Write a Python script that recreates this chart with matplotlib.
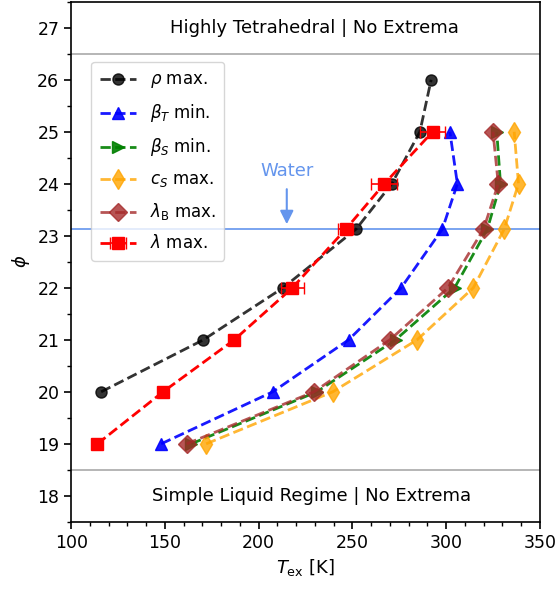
import matplotlib
matplotlib.use("Agg")
import matplotlib.pyplot as plt
from matplotlib.ticker import MultipleLocator

phi_all = [19, 20, 21, 22, 23.13, 24, 25, 26]
phi_rho = [20, 21, 22, 23.13, 24, 25, 26]
rho_max = [116, 170.5, 213, 252, 271, 286, 292]
phi_s = [19, 20, 21, 22, 23.13, 24, 25]
betaT_min = [148, 207.5, 248, 276, 298, 306, 302]
betaS_min = [164, 231, 273, 304.5, 322, 329, 327]
cS_max = [172, 239.5, 284.5, 314.5, 331, 338.6, 336.3]
lamB_max = [161.6, 229.5, 270, 301, 320, 327.8, 325]
lam_max = [114, 149, 187, 218, 246.5, 267, 292.8]
lam_err = [2, 2.5, 2.5, 6, 4, 7, 6.5]

water_phi = 23.13
upper_bound = 26.5
lower_bound = 18.5

fig = plt.figure(figsize=(5.56, 5.91), dpi=100)
ax = fig.add_axes([0.128, 0.117, 0.843, 0.880])

ax.axhline(upper_bound, color='darkgray', lw=1.2)
ax.axhline(lower_bound, color='darkgray', lw=1.2)
ax.axhline(water_phi, color='cornflowerblue', lw=1.2)

ax.plot(rho_max, phi_rho, '--o', color='k', alpha=0.8, ms=8, lw=2, label=r'$\rho$ max.')
ax.plot(betaT_min, phi_s, '--^', color='b', alpha=0.9, ms=8, lw=2, label=r'$\beta_T$ min.')
ax.plot(betaS_min, phi_s, '-->', color='g', alpha=0.9, ms=8, lw=2, label=r'$\beta_S$ min.')
ax.plot(cS_max, phi_s, '--d', color='orange', alpha=0.8, ms=10, lw=2, label=r'$c_S$ max.')
ax.plot(lamB_max, phi_s, '--D', color='brown', alpha=0.8, ms=9, lw=2, label=r'$\lambda_\mathrm{B}$ max.')
ax.errorbar(lam_max, phi_s, xerr=lam_err, fmt='--s', color='r', ms=9, lw=2,
            capsize=4, elinewidth=1.2, label=r'$\lambda$ max.')

ax.text(230, 27.0, 'Highly Tetrahedral | No Extrema', ha='center', va='center', fontsize=13)
ax.text(228, 18.0, 'Simple Liquid Regime | No Extrema', ha='center', va='center', fontsize=13)

ax.annotate('', xy=(215, 23.17), xytext=(215, 23.95),
            arrowprops=dict(arrowstyle='-|>', color='cornflowerblue', lw=1.5, mutation_scale=20))
ax.text(215, 24.25, 'Water', ha='center', va='center', fontsize=13, color='cornflowerblue')

ax.set_xlim(100, 350)
ax.set_ylim(17.5, 27.5)
ax.xaxis.set_major_locator(MultipleLocator(50))
ax.xaxis.set_minor_locator(MultipleLocator(10))
ax.yaxis.set_major_locator(MultipleLocator(1))
ax.yaxis.set_minor_locator(MultipleLocator(0.5))
ax.tick_params(labelsize=12.5, width=1.2, length=5)
ax.tick_params(which='minor', width=1, length=3)
for s in ax.spines.values():
    s.set_linewidth(1.2)

ax.set_xlabel(r'$T_\mathrm{ex}$ [K]', fontsize=13)
ax.set_ylabel(r'$\phi$', fontsize=13)

ax.legend(loc='upper left', bbox_to_anchor=(0.025, 0.9), fontsize=12, handlelength=2.2,
          borderpad=0.5, labelspacing=0.72)

fig.savefig('out.png', dpi=100)
